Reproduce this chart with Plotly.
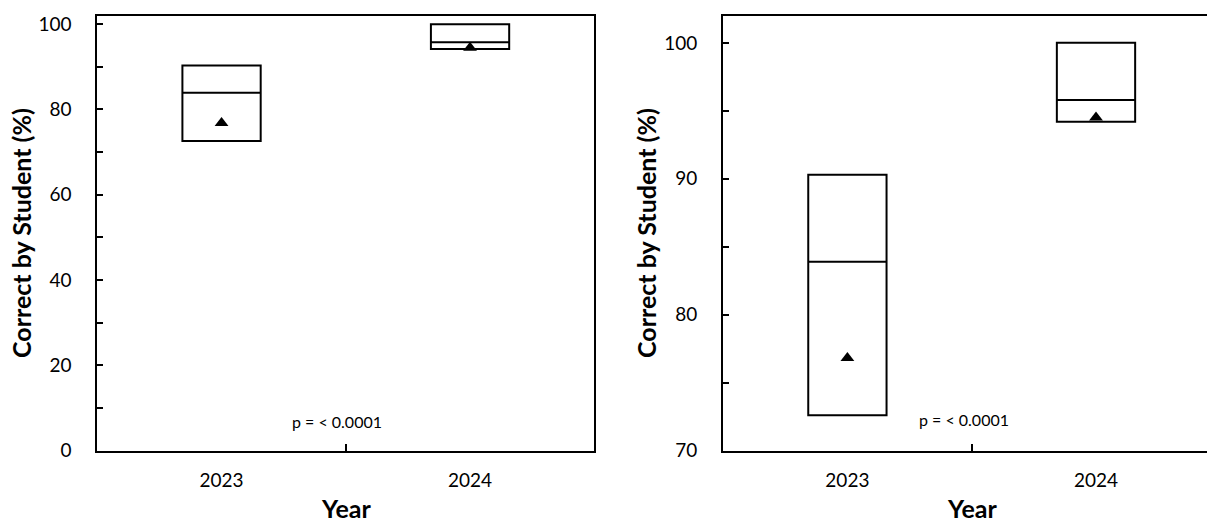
import plotly.graph_objects as go
from plotly.subplots import make_subplots

# Summary statistics per year
years = ["2023", "2024"]
q1 = [72.6, 94.2]
median = [83.9, 95.8]
q3 = [90.3, 100.0]
mean = [76.8, 94.5]

p_label = "p = < 0.0001"
y_title = "Correct by Student (%)"
x_title = "Year"

FONT = "Lato"
BLACK = "#000000"

fig = make_subplots(rows=1, cols=2)

for col in (1, 2):
    fig.add_trace(
        go.Box(
            x=years,
            q1=q1,
            median=median,
            q3=q3,
            lowerfence=q1,
            upperfence=q3,
            width=0.315,
            whiskerwidth=0,
            fillcolor="rgba(0,0,0,0)",
            line=dict(color=BLACK, width=2),
            boxpoints=False,
            showlegend=False,
            hoverinfo="skip",
        ),
        row=1, col=col,
    )
    fig.add_trace(
        go.Scatter(
            x=years,
            y=mean,
            mode="markers",
            marker=dict(symbol="triangle-up", size=12, color=BLACK),
            showlegend=False,
            hoverinfo="skip",
        ),
        row=1, col=col,
    )

W, H = 1207, 525


def px_x(v):
    return v / W


def px_y(v):
    return 1 - v / H


tick_font = dict(family=FONT, size=19, color=BLACK)
title_font = dict(family=FONT, size=25, color=BLACK)

common_x = dict(
    type="category",
    categoryorder="array",
    categoryarray=years,
    showline=True,
    linecolor=BLACK,
    linewidth=2,
    ticks="inside",
    tickson="boundaries",
    ticklen=7,
    tickwidth=2,
    tickcolor=BLACK,
    tickfont=tick_font,
    ticklabelstandoff=12,
    showgrid=False,
    zeroline=False,
    mirror=True,
    automargin=False,
)

common_y = dict(
    showline=True,
    linecolor=BLACK,
    linewidth=2,
    ticks="inside",
    ticklen=6,
    tickwidth=2,
    tickcolor=BLACK,
    tickfont=tick_font,
    ticklabelstandoff=20,
    showgrid=False,
    zeroline=False,
    automargin=False,
    title=dict(text="<b>" + y_title + "</b>", font=title_font, standoff=0),
)

y_dom = [px_y(450.5), px_y(15.7)]

fig.update_layout(
    width=W,
    height=H,
    margin=dict(l=0, r=0, t=0, b=0),
    paper_bgcolor="white",
    plot_bgcolor="white",
    boxmode="overlay",
    xaxis=dict(common_x, domain=[px_x(97.3), px_x(594.3)], range=[-0.5, 1.5]),
    yaxis=dict(common_y, domain=y_dom, range=[0, 102], dtick=20,
               minor=dict(dtick=10, ticks="inside", ticklen=6, tickwidth=2, tickcolor=BLACK),
               mirror=True),
    xaxis2=dict(common_x, domain=[px_x(723.1), 1.0], range=[-0.5, 1.4465]),
    yaxis2=dict(common_y, domain=y_dom, range=[70, 102], dtick=10,
                minor=dict(dtick=5, ticks="inside", ticklen=6, tickwidth=2, tickcolor=BLACK),
                mirror=False),
)

# x-axis titles, centred under the category boundary of each panel
for xr in ("x", "x2"):
    fig.add_annotation(x=0.5, y=px_y(524), xref=xr, yref="paper",
                       text="<b>" + x_title + "</b>", showarrow=False,
                       yanchor="bottom", borderpad=0, font=title_font)

fig.add_annotation(x=0.463, y=6.9, xref="x", yref="y", text=p_label,
                   showarrow=False, font=dict(family=FONT, size=16, color=BLACK))
fig.add_annotation(x=0.469, y=72.3, xref="x2", yref="y2", text=p_label,
                   showarrow=False, font=dict(family=FONT, size=16, color=BLACK))

fig.write_html("out.html")
